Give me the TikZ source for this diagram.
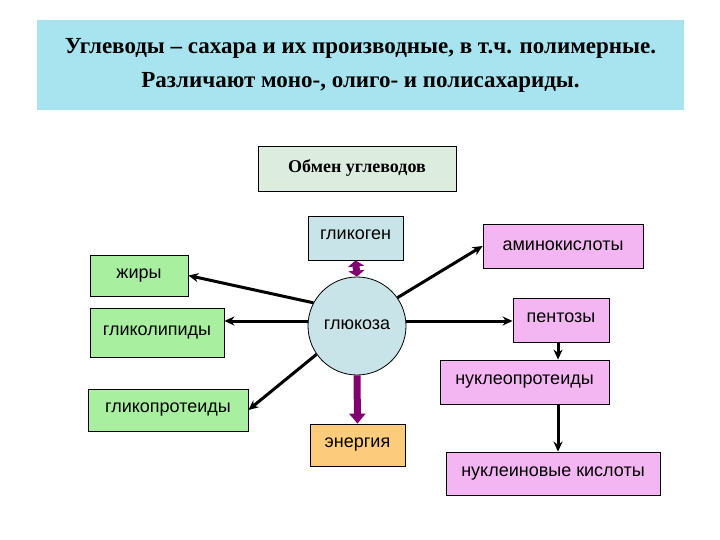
\documentclass[tikz,border=0pt]{standalone}
\usepackage{fontspec}
\usetikzlibrary{arrows.meta}
\setmainfont{Liberation Serif}
\newfontfamily\arial{Liberation Sans}
\begin{document}
\begin{tikzpicture}[x=1pt,y=-1pt,
  bx/.style={draw=black,line width=0.8pt,inner sep=0pt,font=\arial\fontsize{18}{20}\selectfont},
  gr/.style={bx,fill=grn},
  pk/.style={bx,fill=pnk},
  ar/.style={line width=3pt,-{Stealth[length=10pt,width=9pt]}},
  pa/.style={line width=7pt,draw=purp,-{Triangle[length=10pt,width=16pt]}}]
\definecolor{grn}{HTML}{A8F0A0}
\definecolor{pnk}{HTML}{F4B6F2}
\definecolor{blu}{HTML}{C8E4E8}
\definecolor{cyn}{HTML}{A8E4F0}
\definecolor{purp}{HTML}{800070}
\definecolor{org}{HTML}{FCCC7C}
\definecolor{ggr}{HTML}{DCEDE0}
\useasboundingbox (0,0) rectangle (720,540);
\node[fill=cyn,minimum width=647,minimum height=90,align=center,font=\bfseries\fontsize{23}{34}\selectfont] (t) at (360.5,65) {Углеводы – сахара и их производные, в т.ч. полимерные.\\Различают моно-, олиго- и полисахариды.};
\node[draw,line width=0.8pt,fill=ggr,minimum width=198,minimum height=45,font=\bfseries\fontsize{18}{20}\selectfont] (o) at (357,168.5) {Обмен углеводов};
\node[bx,fill=blu,minimum width=95,minimum height=44] (gk) at (355.5,238) {\raisebox{6pt}{гликоген}};
\node[circle,draw,line width=0.8pt,fill=blu,minimum size=98,font=\arial\fontsize{18}{20}\selectfont] (g) at (357,326) {\raisebox{3pt}{глюкоза}};
\node[pk,minimum width=160,minimum height=44] (am) at (563,246) {аминокислоты};
\node[gr,minimum width=98,minimum height=41] (zh) at (139,275.5) {\raisebox{2pt}{жиры}};
\node[gr,minimum width=134,minimum height=49] (gl) at (157,332.5) {\raisebox{4pt}{гликолипиды}};
\node[pk,minimum width=96,minimum height=44] (pe) at (561,320) {\raisebox{4pt}{пентозы}};
\node[pk,minimum width=169,minimum height=44] (np) at (524.5,382) {нуклеопротеиды};
\node[gr,minimum width=160,minimum height=42] (gp) at (168,410) {гликопротеиды};
\node[bx,fill=org,minimum width=95,minimum height=42] (en) at (357.5,445) {энергия};
\node[pk,minimum width=214,minimum height=43] (nk) at (553,473.5) {нуклеиновые кислоты};
\coordinate (x1) at (558,0);
\coordinate (y1) at (0,321);
\draw[line width=7pt,draw=purp,{Triangle[length=6pt,width=16pt]}-{Triangle[length=6pt,width=16pt]}] (gk.south) -- (g.north);
\draw[pa] (g.south) -- (en.north);
\draw[ar] (g.152) -- (zh.east);
\draw[ar] (g.west |- y1) -- (gl.east |- y1);
\draw[ar] (g.215) -- (gp.east);
\draw[ar] (g.35) -- (am.west);
\draw[ar] (g.east |- y1) -- (pe.west |- y1);
\draw[ar] (pe.south -| x1) -- (np.north -| x1);
\draw[ar] (np.south -| x1) -- (nk.north -| x1);
\end{tikzpicture}
\end{document}
